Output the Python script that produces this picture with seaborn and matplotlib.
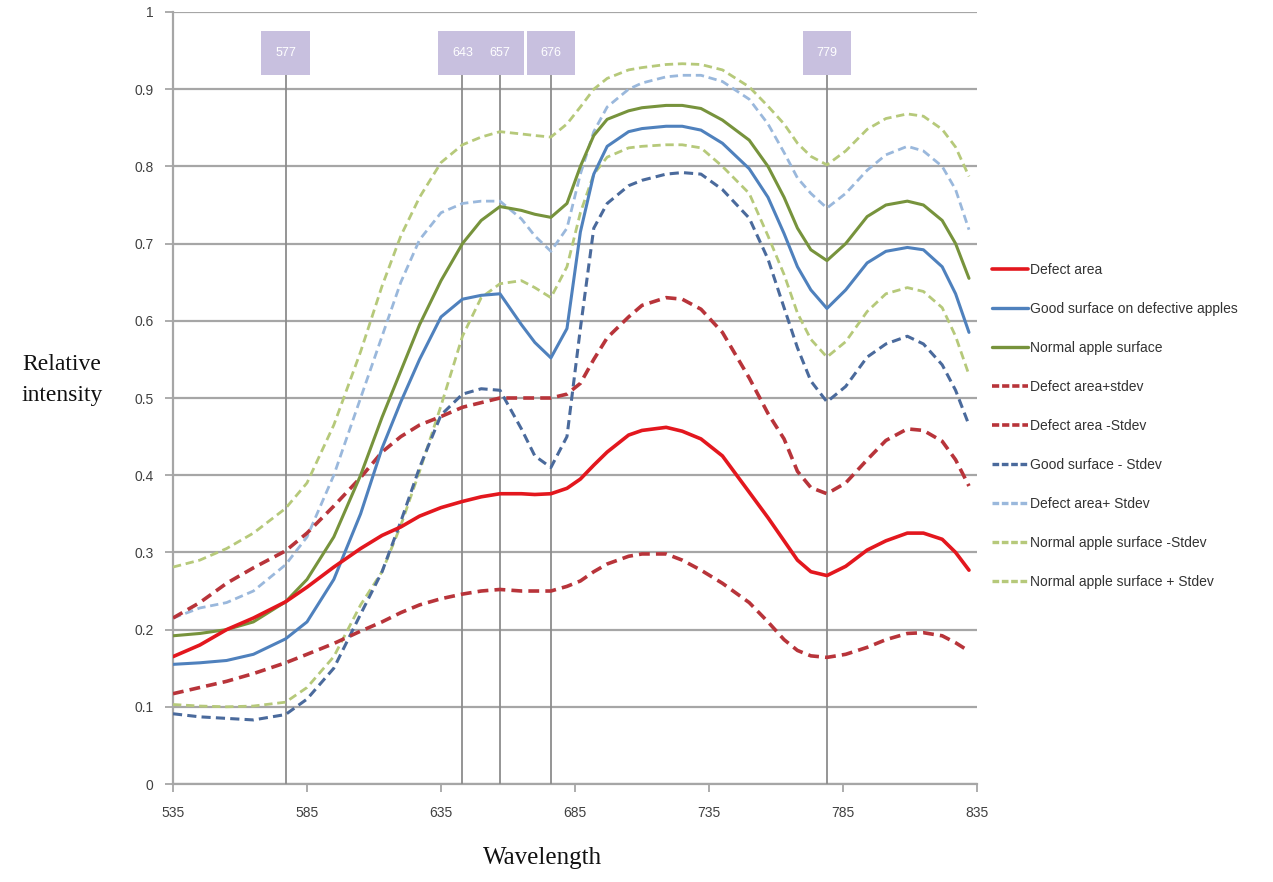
import numpy as np
import pandas as pd
import matplotlib
matplotlib.use("Agg")
import matplotlib.pyplot as plt
from matplotlib.lines import Line2D
from matplotlib.patches import Rectangle
from matplotlib import font_manager
import seaborn as sns

# ---------------- data ----------------
wavelength = [535, 545, 555, 565, 577, 585, 595, 605, 613, 620,
              627, 635, 643, 650, 657, 665, 670, 676, 682, 687,
              692, 697, 705, 710, 719, 725, 732, 740, 750, 757,
              763, 768, 773, 779, 786, 794, 801, 809, 815, 822,
              827, 832]

defect_area = [0.165, 0.18, 0.20, 0.215, 0.236, 0.255, 0.281, 0.305, 0.322, 0.333,
               0.347, 0.358, 0.366, 0.372, 0.376, 0.376, 0.375, 0.376, 0.383, 0.395,
               0.413, 0.43, 0.452, 0.458, 0.462, 0.457, 0.447, 0.425, 0.378, 0.345,
               0.315, 0.29, 0.275, 0.27, 0.282, 0.303, 0.315, 0.325, 0.325, 0.317,
               0.30, 0.277]
good_surface = [0.155, 0.157, 0.16, 0.168, 0.188, 0.21, 0.265, 0.35, 0.435, 0.495,
                0.55, 0.605, 0.628, 0.633, 0.635, 0.595, 0.572, 0.552, 0.59, 0.715,
                0.79, 0.826, 0.845, 0.849, 0.852, 0.852, 0.847, 0.83, 0.797, 0.76,
                0.713, 0.67, 0.64, 0.616, 0.64, 0.675, 0.69, 0.695, 0.692, 0.67,
                0.635, 0.585]
normal_surface = [0.192, 0.195, 0.20, 0.21, 0.236, 0.265, 0.32, 0.40, 0.475, 0.535,
                  0.595, 0.652, 0.70, 0.73, 0.748, 0.743, 0.738, 0.734, 0.752, 0.80,
                  0.84, 0.861, 0.872, 0.876, 0.879, 0.879, 0.875, 0.86, 0.834, 0.80,
                  0.76, 0.72, 0.692, 0.678, 0.70, 0.735, 0.75, 0.755, 0.75, 0.73,
                  0.70, 0.655]
defect_plus = [0.215, 0.235, 0.26, 0.28, 0.302, 0.325, 0.36, 0.397, 0.43, 0.45,
               0.465, 0.476, 0.488, 0.494, 0.50, 0.50, 0.50, 0.50, 0.505, 0.519,
               0.55, 0.578, 0.605, 0.62, 0.63, 0.628, 0.615, 0.585, 0.526, 0.48,
               0.447, 0.405, 0.384, 0.376, 0.39, 0.42, 0.445, 0.46, 0.458, 0.444,
               0.42, 0.386]
defect_minus = [0.117, 0.125, 0.133, 0.143, 0.157, 0.168, 0.182, 0.198, 0.21, 0.222,
                0.232, 0.24, 0.246, 0.25, 0.252, 0.25, 0.25, 0.25, 0.256, 0.263,
                0.275, 0.285, 0.295, 0.298, 0.298, 0.29, 0.277, 0.26, 0.235, 0.21,
                0.187, 0.173, 0.166, 0.164, 0.168, 0.177, 0.187, 0.195, 0.196, 0.192,
                0.183, 0.172]
good_minus = [0.091, 0.087, 0.085, 0.083, 0.09, 0.11, 0.15, 0.22, 0.275, 0.34,
              0.41, 0.478, 0.505, 0.512, 0.51, 0.46, 0.425, 0.41, 0.45, 0.59,
              0.72, 0.752, 0.775, 0.782, 0.79, 0.792, 0.79, 0.77, 0.733, 0.68,
              0.617, 0.565, 0.522, 0.495, 0.515, 0.553, 0.57, 0.58, 0.57, 0.543,
              0.51, 0.465]
good_plus = [0.215, 0.228, 0.235, 0.25, 0.284, 0.32, 0.40, 0.50, 0.58, 0.65,
             0.705, 0.74, 0.752, 0.755, 0.755, 0.732, 0.71, 0.69, 0.72, 0.79,
             0.845, 0.877, 0.90, 0.908, 0.916, 0.918, 0.918, 0.91, 0.887, 0.855,
             0.818, 0.785, 0.765, 0.746, 0.765, 0.795, 0.815, 0.826, 0.82, 0.80,
             0.77, 0.718]
normal_minus = [0.103, 0.101, 0.10, 0.101, 0.106, 0.125, 0.165, 0.232, 0.275, 0.335,
                0.405, 0.49, 0.58, 0.63, 0.648, 0.652, 0.643, 0.63, 0.67, 0.74,
                0.79, 0.812, 0.824, 0.826, 0.828, 0.828, 0.824, 0.80, 0.765, 0.71,
                0.66, 0.61, 0.576, 0.553, 0.573, 0.612, 0.635, 0.643, 0.638, 0.617,
                0.58, 0.53]
normal_plus = [0.281, 0.29, 0.305, 0.325, 0.357, 0.39, 0.465, 0.56, 0.645, 0.71,
               0.76, 0.805, 0.828, 0.838, 0.845, 0.842, 0.84, 0.838, 0.855, 0.877,
               0.90, 0.914, 0.925, 0.928, 0.932, 0.933, 0.932, 0.925, 0.903, 0.878,
               0.855, 0.83, 0.813, 0.802, 0.82, 0.848, 0.862, 0.868, 0.865, 0.848,
               0.825, 0.787]

series_labels = ["Defect area", "Good surface on defective apples", "Normal apple surface",
                 "Defect area+stdev", "Defect area -Stdev", "Good surface - Stdev",
                 "Defect area+ Stdev", "Normal apple surface -Stdev",
                 "Normal apple surface + Stdev"]
series_values = [defect_area, good_surface, normal_surface, defect_plus, defect_minus,
                 good_minus, good_plus, normal_minus, normal_plus]
for s in series_values:
    assert len(s) == len(wavelength)

marker_wavelengths = [577, 643, 657, 676, 779]
marker_labels = ["577", "643", "657", "676", "779"]

x_ticks = [535, 585, 635, 685, 735, 785, 835]
y_ticks = [0, 0.1, 0.2, 0.3, 0.4, 0.5, 0.6, 0.7, 0.8, 0.9, 1]
y_tick_labels = ["0", "0.1", "0.2", "0.3", "0.4", "0.5", "0.6", "0.7", "0.8", "0.9", "1"]

# ---------------- styles ----------------
colors = ["#e3171e", "#4f81bd", "#77933c", "#b8343a", "#b8343a", "#4a6a9c",
          "#9ab8dc", "#b6c97a", "#b6c97a"]
solid = [True, True, True, False, False, False, False, False, False]
widths = [2.6, 2.2, 2.2, 2.6, 2.6, 2.2, 2.0, 2.0, 2.0]

sns.set_theme(style="white")
installed = {f.name for f in font_manager.fontManager.ttflist}
narrow = "Liberation Sans Narrow" if "Liberation Sans Narrow" in installed else "Liberation Sans"
plt.rcParams["font.family"] = [narrow, "DejaVu Sans"]

fig = plt.figure(figsize=(12.73, 8.82), dpi=100)
ax = fig.add_axes([0.1359, 0.1111, 0.6316, 0.8753])

df = pd.DataFrame({"wavelength": wavelength})
order = [8, 7, 6, 5, 4, 3, 2, 1, 0]
for i in order:
    df["v"] = series_values[i]
    ls = "-" if solid[i] else (0, (3.0, 1.7))
    sns.lineplot(data=df, x="wavelength", y="v", ax=ax, color=colors[i], lw=widths[i],
                 linestyle=ls, zorder=5 + (3 if solid[i] else 0), legend=False)
handles = []
for i in range(9):
    ls = "-" if solid[i] else (0, (2.0, 0.8))
    handles.append(Line2D([0], [0], color=colors[i], lw=2.6 if i in (0, 3, 4) else 2.4,
                          linestyle=ls))

ax.set_xlim(535, 835)
ax.set_ylim(0, 1)
ax.set_xticks(x_ticks)
ax.set_xticklabels([str(t) for t in x_ticks])
ax.set_yticks(y_ticks)
ax.set_yticklabels(y_tick_labels)
ax.yaxis.grid(True, color="#a6a6a6", lw=1.6)
ax.xaxis.grid(False)
ax.set_axisbelow(True)
for s in ["top", "right"]:
    ax.spines[s].set_visible(False)
for s in ["left", "bottom"]:
    ax.spines[s].set_color("#a6a6a6")
    ax.spines[s].set_linewidth(1.6)
ax.tick_params(axis="x", direction="out", length=6, width=1.3, color="#a6a6a6",
               labelsize=10, labelcolor="#404040", pad=10, bottom=True)
ax.tick_params(axis="y", direction="out", length=6, width=1.3, color="#a6a6a6",
               labelsize=10, labelcolor="#404040", pad=8, left=True)

# marker lines with label boxes
box_w = 18.0
for wl, lab in zip(marker_wavelengths, marker_labels):
    ax.plot([wl, wl], [0, 0.918], color="#8c8c8c", lw=1.3, zorder=3)
    ax.add_patch(Rectangle((wl - box_w / 2, 0.918), box_w, 0.058, facecolor="#c8c0df",
                           edgecolor="none", zorder=4))
    ax.text(wl, 0.947, lab, ha="center", va="center", color="white", fontsize=9,
            zorder=6)

ax.set_xlabel("")
ax.set_ylabel("")
fig.text(62 / 1273, 1 - 380 / 882, "Relative\nintensity", ha="center", va="center",
         fontsize=17, family=["Liberation Serif", "DejaVu Serif"], linespacing=1.6,
         color="#111111")
fig.text(543 / 1273, 1 - 858 / 882, "Wavelength", ha="center", va="center",
         fontsize=18, family=["Liberation Serif", "DejaVu Serif"], color="#111111")

leg = fig.legend(handles, series_labels, loc="upper left",
                 bbox_to_anchor=(986 / 1273, 1 - 257 / 882), frameon=False,
                 fontsize=10, handlelength=2.6, handletextpad=0.2, labelspacing=1.8,
                 borderaxespad=0)
for t in leg.get_texts():
    t.set_color("#333333")

fig.savefig("out.png", dpi=100)
